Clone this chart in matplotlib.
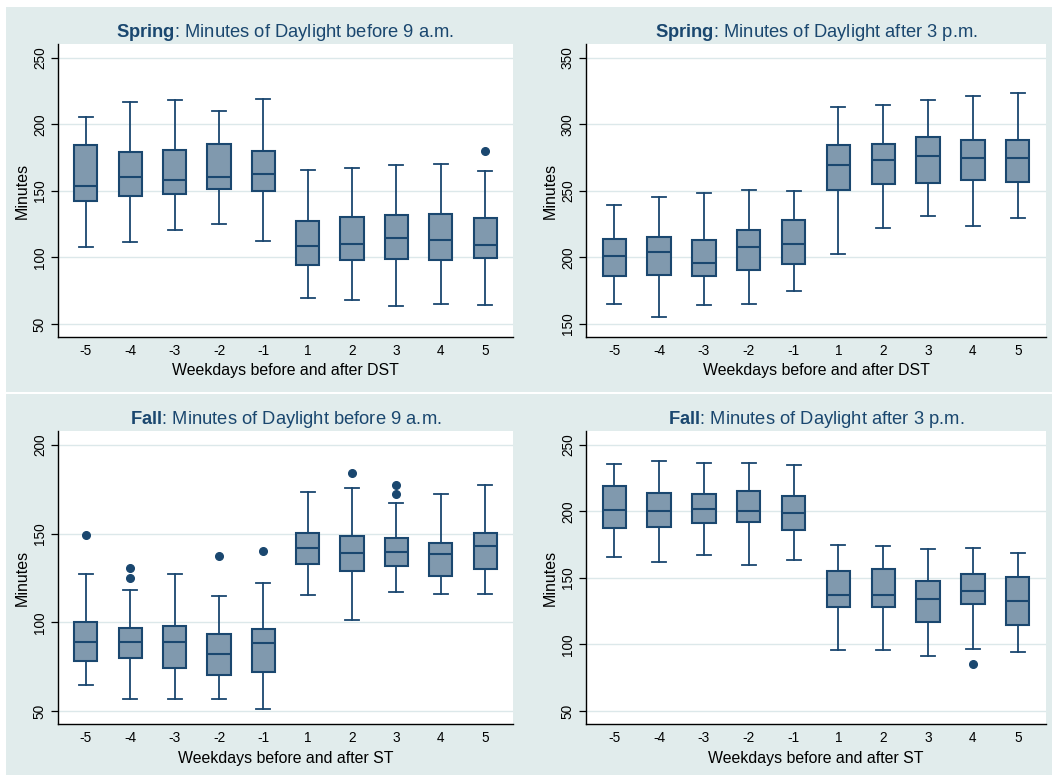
import matplotlib
matplotlib.use("Agg")
import matplotlib.pyplot as plt
from matplotlib.patches import Rectangle

plt.rcParams["font.family"] = ["Liberation Sans", "DejaVu Sans"]
plt.rcParams["mathtext.fontset"] = "custom"
plt.rcParams["mathtext.bf"] = "Liberation Sans:bold"
plt.rcParams["mathtext.rm"] = "Liberation Sans"

NAVY = "#1A476F"
FILL = "#8099AE"
PANEL = "#E1ECEC"
GRID = "#DCE8EA"

days = ["-5", "-4", "-3", "-2", "-1", "1", "2", "3", "4", "5"]

# spring, before 9 a.m.
sb_lo = [107.8, 111.5, 120.5, 124.8, 112.5, 69.5, 68.0, 63.5, 64.8, 64.5]
sb_q1 = [142.5, 146.0, 147.5, 151.8, 149.8, 94.3, 98.3, 99.0, 97.8, 99.5]
sb_med = [154.0, 160.5, 158.0, 160.5, 162.5, 108.3, 110.5, 115.0, 113.3, 109.0]
sb_q3 = [184.3, 179.0, 181.0, 185.0, 180.0, 127.5, 130.3, 131.8, 132.5, 129.3]
sb_hi = [205.5, 217.0, 218.5, 210.5, 219.0, 165.5, 167.0, 169.3, 170.0, 165.3]
sb_out = [[], [], [], [], [], [], [], [], [], [180.0]]

# spring, after 3 p.m.
sa_lo = [164.8, 155.5, 164.0, 165.3, 174.6, 202.9, 222.0, 231.5, 224.0, 229.5]
sa_q1 = [185.8, 186.6, 185.8, 190.9, 194.9, 250.5, 255.5, 255.8, 258.5, 256.5]
sa_med = [201.4, 204.0, 196.0, 208.0, 210.0, 269.8, 273.6, 276.0, 275.0, 275.0]
sa_q3 = [214.0, 215.4, 213.0, 221.0, 228.4, 284.3, 285.6, 290.6, 288.0, 288.3]
sa_hi = [239.7, 245.7, 248.2, 250.5, 249.7, 313.4, 315.0, 318.4, 321.2, 323.7]
sa_out = [[], [], [], [], [], [], [], [], [], []]

# fall, before 9 a.m.
fb_lo = [64.6, 56.6, 56.9, 56.9, 50.9, 115.5, 101.1, 117.2, 116.1, 116.1]
fb_q1 = [78.3, 79.7, 74.2, 70.3, 71.8, 132.8, 129.0, 131.7, 126.0, 130.0]
fb_med = [88.9, 89.2, 88.7, 81.9, 88.5, 142.0, 139.2, 139.9, 138.6, 143.3]
fb_q3 = [100.3, 97.1, 97.9, 93.6, 96.2, 150.4, 148.9, 147.8, 145.0, 150.4]
fb_hi = [127.0, 118.0, 127.0, 115.0, 122.1, 173.3, 175.6, 167.3, 172.6, 177.5]
fb_out = [[149.3], [130.9, 125.3], [], [137.3], [140.5], [], [184.0], [177.5, 172.4], [], []]

# fall, after 3 p.m.
fa_lo = [165.9, 162.1, 166.9, 159.6, 163.6, 96.0, 95.8, 91.3, 96.6, 94.6]
fa_q1 = [187.4, 188.2, 191.7, 192.2, 185.7, 127.8, 128.1, 117.1, 130.1, 114.8]
fa_med = [201.0, 200.0, 201.7, 200.4, 198.7, 137.1, 136.9, 134.1, 140.4, 132.9]
fa_q3 = [219.2, 214.2, 213.5, 215.2, 211.7, 155.6, 156.4, 147.6, 153.1, 150.4]
fa_hi = [236.0, 238.2, 236.7, 236.2, 235.2, 174.9, 173.9, 171.6, 172.7, 168.6]
fa_out = [[], [], [], [], [], [], [], [], [85.5], []]


def make_stats(lo, q1, med, q3, hi, out):
    return [dict(whislo=a, q1=b, med=c, q3=d, whishi=e, fliers=f)
            for a, b, c, d, e, f in zip(lo, q1, med, q3, hi, out)]


panels = [
    (make_stats(sb_lo, sb_q1, sb_med, sb_q3, sb_hi, sb_out),
     r"$\mathbf{Spring}$: Minutes of Daylight before 9 a.m.",
     "Weekdays before and after DST", [50, 100, 150, 200, 250], (40.2, 260.5)),
    (make_stats(sa_lo, sa_q1, sa_med, sa_q3, sa_hi, sa_out),
     r"$\mathbf{Spring}$: Minutes of Daylight after 3 p.m.",
     "Weekdays before and after DST", [150, 200, 250, 300, 350], (140.2, 360.5)),
    (make_stats(fb_lo, fb_q1, fb_med, fb_q3, fb_hi, fb_out),
     r"$\mathbf{Fall}$: Minutes of Daylight before 9 a.m.",
     "Weekdays before and after ST", [50, 100, 150, 200], (42.7, 207.9)),
    (make_stats(fa_lo, fa_q1, fa_med, fa_q3, fa_hi, fa_out),
     r"$\mathbf{Fall}$: Minutes of Daylight after 3 p.m.",
     "Weekdays before and after ST", [50, 100, 150, 200, 250], (40.2, 260.5)),
]

W, H = 1052, 775
fig = plt.figure(figsize=(W / 100, H / 100), dpi=100, facecolor="white")

# panel backgrounds (pixels: x0, y0 from top, x1, y1)
backs = [(6, 7, 527, 392), (527, 7, 1052, 392), (6, 394, 527, 775), (527, 394, 1052, 775)]
for x0, y0, x1, y1 in backs:
    fig.patches.append(Rectangle((x0 / W, 1 - y1 / H), (x1 - x0) / W, (y1 - y0) / H,
                                 transform=fig.transFigure, facecolor=PANEL,
                                 edgecolor="none", zorder=-10))

# plot areas (pixels: left, top, right, bottom)
areas = [(58, 44, 513, 337), (586, 44, 1046, 337), (58, 431, 513, 724), (586, 431, 1046, 724)]

for (stats, title, xlabel, yticks, ylim), (l, t, r, b) in zip(panels, areas):
    ax = fig.add_axes([l / W, 1 - b / H, (r - l) / W, (b - t) / H])
    ax.set_facecolor("white")
    ax.bxp(stats, positions=range(1, 11), widths=0.52, patch_artist=True,
           showfliers=True,
           boxprops=dict(facecolor=FILL, edgecolor=NAVY, linewidth=1.5),
           medianprops=dict(color=NAVY, linewidth=1.5),
           whiskerprops=dict(color=NAVY, linewidth=1.3),
           capprops=dict(color=NAVY, linewidth=1.3),
           capwidths=0.31,
           flierprops=dict(marker="o", markerfacecolor=NAVY, markeredgecolor=NAVY,
                           markersize=5.5))
    ax.set_xlim(0.37, 10.63)
    ax.set_ylim(*ylim)
    ax.set_yticks(yticks)
    ax.set_yticklabels([str(v) for v in yticks], rotation=90, va="center", fontsize=9.8)
    ax.set_xticks(range(1, 11))
    ax.set_xticklabels(days, fontsize=9.8)
    ax.tick_params(axis="x", length=0, pad=5)
    ax.tick_params(axis="y", length=5, width=0.9, pad=3, direction="out")
    ax.grid(axis="y", color=GRID, linewidth=1.0)
    ax.set_axisbelow(True)
    for side in ("top", "right"):
        ax.spines[side].set_visible(False)
    for side in ("left", "bottom"):
        ax.spines[side].set_linewidth(1.0)
        ax.spines[side].set_color("black")
    ax.set_xlabel(xlabel, fontsize=11.4, labelpad=4)
    ax.set_ylabel("Minutes", fontsize=11.5, labelpad=2)
    ax.set_title(title, fontsize=13.2, color=NAVY, pad=5)

fig.savefig("out.png", dpi=100, facecolor="white")
